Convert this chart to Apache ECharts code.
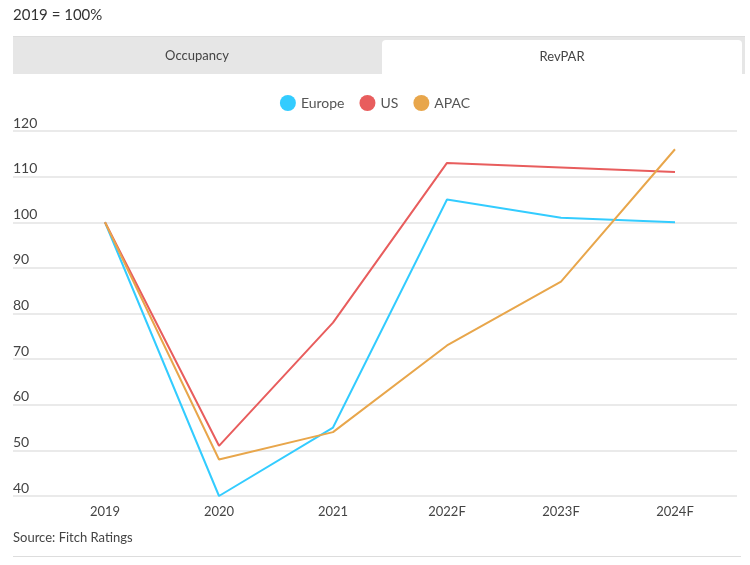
<!DOCTYPE html>
<html>
<head>
<meta charset="utf-8">
<script src="https://cdn.jsdelivr.net/npm/echarts@6/dist/echarts.min.js"></script>
<style>
  html, body { margin: 0; padding: 0; background: #fff; font-family: Lato, "Open Sans", sans-serif; }
  #wrap { position: relative; width: 750px; height: 565px; overflow: hidden; }
  #chart { position: absolute; left: 0; top: 0; width: 750px; height: 565px; }
  #sub { position: absolute; left: 13px; top: 5px; font-size: 15px; color: #333; }
  #tabs { position: absolute; left: 13px; top: 36px; width: 732px; height: 38px; background: #e6e6e6; border-top: 1px solid #ddd; box-sizing: border-box; }
  .tab { position: absolute; top: 0; height: 37px; line-height: 37px; text-align: center; font-size: 13px; color: #444; }
  #t1 { left: 0; width: 368px; }
  #t2 { left: 369px; top: 3px; width: 360px; height: 35px; line-height: 33px; background: #fff; border-radius: 4px 4px 0 0; }
  #src { position: absolute; left: 13px; top: 529px; font-size: 13px; color: #444; }
  #rule { position: absolute; left: 13px; top: 556px; width: 728px; height: 1px; background: #ddd; }
</style>
</head>
<body>
<div id="wrap">
  <div id="chart"></div>
  <div id="sub">2019 = 100%</div>
  <div id="tabs"><div class="tab" id="t1">Occupancy</div><div class="tab" id="t2">RevPAR</div></div>
  <div id="src">Source: Fitch Ratings</div>
  <div id="rule"></div>
</div>
<script>
const categories = ['2019', '2020', '2021', '2022F', '2023F', '2024F'];
const europe = [100, 40, 55, 105, 101, 100];
const us = [100, 51, 78, 113, 112, 111];
const apac = [100, 48, 54, 73, 87, 116];
const colors = { Europe: '#33ccff', US: '#e85d5d', APAC: '#e8a64b' };

const chart = echarts.init(document.getElementById('chart'));
const mk = (name, data) => ({
  name, type: 'line', data, xAxisIndex: 1, yAxisIndex: 1,
  symbol: 'none', smooth: false,
  lineStyle: { width: 2, color: colors[name] }, itemStyle: { color: colors[name] }
});
chart.setOption({
  animation: false,
  textStyle: { fontFamily: 'Lato' },
  legend: {
    top: 90, left: 'center', icon: 'circle', itemWidth: 16, itemHeight: 16, itemGap: 15,
    textStyle: { fontSize: 14, color: '#555' },
    data: ['Europe', 'US', 'APAC']
  },
  grid: [
    { left: 13, right: 13, top: 131, bottom: 69 },
    { left: 48, right: 18, top: 131, bottom: 69 }
  ],
  xAxis: [
    { gridIndex: 0, type: 'category', data: categories, show: false },
    { gridIndex: 1, type: 'category', data: categories, boundaryGap: true,
      axisLine: { show: false }, axisTick: { show: false },
      axisLabel: { fontSize: 13, color: '#444', margin: 9 } }
  ],
  yAxis: [
    { gridIndex: 0, type: 'value', min: 40, max: 120, interval: 10,
      axisLine: { show: false }, axisTick: { show: false },
      axisLabel: { inside: true, fontSize: 14, color: '#444', verticalAlign: 'bottom', margin: 0, padding: [0, 0, 1, 0] },
      splitLine: { lineStyle: { color: '#e3e3e3', width: 1.5 } } },
    { gridIndex: 1, type: 'value', min: 40, max: 120, interval: 10, show: false,
      splitLine: { show: false } }
  ],
  series: [mk('Europe', europe), mk('US', us), mk('APAC', apac)]
});
</script>
</body>
</html>
